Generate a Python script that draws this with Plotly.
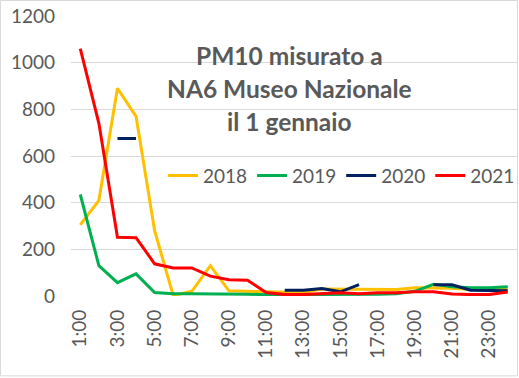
import plotly.graph_objects as go

hours = ["1:00", "2:00", "3:00", "4:00", "5:00", "6:00", "7:00", "8:00",
         "9:00", "10:00", "11:00", "12:00", "13:00", "14:00", "15:00", "16:00",
         "17:00", "18:00", "19:00", "20:00", "21:00", "22:00", "23:00", "24:00"]

pm10_2018 = [305, 410, 890, 770, 280, 2, 20, 130, 22, 20, 18, 15, 15, 30, 30, 30,
             30, 28, 35, 35, 33, 28, 30, 30]
pm10_2019 = [435, 130, 57, 95, 15, 10, 10, 10, 10, 8, 5, 5, 5, 5, 5, 5,
             8, 10, 20, 50, 40, 35, 35, 40]
pm10_2020 = [None, None, 675, 675, None, None, None, None, None, None, None, 25,
             25, 32, 18, 49, None, None, None, 48, 48, 25, 22, 22]
pm10_2021 = [1060, 740, 252, 250, 138, 120, 120, 85, 70, 68, 15, 6, 6, 10, 14, 10,
             14, 14, 18, 18, 9, 6, 6, 17]

series = [("2018", pm10_2018, "#FFC000"),
          ("2019", pm10_2019, "#00B050"),
          ("2020", pm10_2020, "#002060"),
          ("2021", pm10_2021, "#FF0000")]

tick_labels = ["1:00", "3:00", "5:00", "7:00", "9:00", "11:00",
               "13:00", "15:00", "17:00", "19:00", "21:00", "23:00"]
y_ticks = [0, 200, 400, 600, 800, 1000, 1200]

title_lines = ["PM10 misurato a", "NA6 Museo Nazionale", "il 1 gennaio"]
title_line_y = [56, 89, 122]   # pixel centres of title lines

FONT = "Lato"
GRAY = "#595959"

fig = go.Figure()
for name, vals, color in series:
    fig.add_trace(go.Scatter(x=hours, y=vals, name=name, mode="lines",
                             line=dict(color=color, width=3),
                             connectgaps=False))

W, H = 519, 378
ml, mr, mt, mb = 71, 2, 16, 81.5
pw = W - ml - mr
ph = H - mt - mb

annotations = [dict(text="<b>" + t + "</b>", xref="paper", yref="paper",
                    x=(289 - ml) / pw, y=(H - mb - py) / ph,
                    xanchor="center", yanchor="middle", showarrow=False,
                    font=dict(size=24.5, color=GRAY, family=FONT))
               for t, py in zip(title_lines, title_line_y)]

fig.update_layout(
    width=W, height=H,
    margin=dict(l=ml, r=mr, t=mt, b=mb, pad=0, autoexpand=False),
    paper_bgcolor="white", plot_bgcolor="white",
    font=dict(family=FONT, color=GRAY, size=19),
    showlegend=True,
    legend=dict(orientation="h", x=(163 - ml) / pw, xanchor="left",
                y=(H - mb - 176) / ph, yanchor="middle",
                bgcolor="rgba(0,0,0,0)", font=dict(size=19, color=GRAY),
                itemwidth=30, tracegroupgap=0),
    xaxis=dict(type="category", range=[-0.5, 23.5], tickmode="array",
               tickvals=tick_labels, ticktext=tick_labels, tickangle=-90,
               showgrid=False, showline=False, zeroline=False, ticks="",
               tickfont=dict(size=19, color=GRAY), ticklabelstandoff=9),
    yaxis=dict(range=[0, 1200], tickvals=y_ticks, showgrid=True,
               gridcolor="#D9D9D9", gridwidth=1, zeroline=False,
               showline=False, ticks="", tickfont=dict(size=19, color=GRAY),
               ticklabelstandoff=15),
    annotations=annotations,
    shapes=[dict(type="rect", xref="paper", yref="paper",
                 x0=(0.5 - ml) / pw, x1=(W - 1.5 - ml) / pw,
                 y0=(H - mb - (H - 1.5)) / ph, y1=(H - mb - 0.5) / ph,
                 line=dict(color="#D9D9D9", width=1), layer="below")],
)

fig.write_html("out.html", config={"displayModeBar": False},
               post_script="document.body.style.margin='0';document.body.style.overflow='hidden';")
